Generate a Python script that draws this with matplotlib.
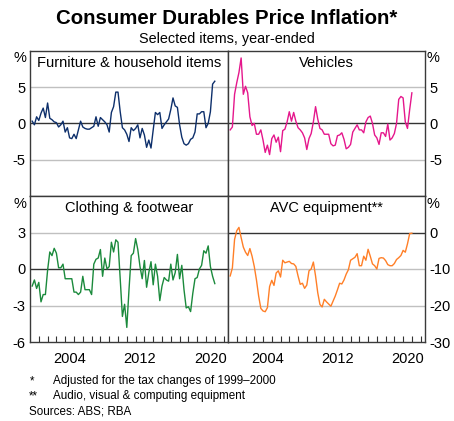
import numpy as np
import matplotlib
matplotlib.use("Agg")
import matplotlib.pyplot as plt

plt.rcParams['font.family'] = ['Liberation Sans', 'DejaVu Sans']

start_year = 2000.25  # first quarterly observation

furniture = [0.3, -0.2, 0.9, 0.4, 1.4, 2.1, 0.8, 2.8, 0.7, 0.5, 0.2, 0.1, -0.5, -0.2, 0.3, -1.2,
             -0.6, -2.0, -2.1, -1.5, -2.1, -0.9, 0.3, -0.5, -0.7, -0.8, -0.8, -0.6, -0.4, 0.9, -0.4, 0.8,
             0.5, 0.2, -0.2, -1.2, 1.5, 2.3, 4.3, 4.3, 1.6, -0.6, -0.9, -1.5, -2.5, -0.6, -1.0, -0.7,
             -0.2, -2.0, -0.7, -1.6, -3.3, -2.3, -3.4, -0.9, 1.5, 1.2, 1.5, -0.7, -0.2, 0.2, 0.6, 1.9,
             3.5, 2.4, 2.2, -0.2, -1.9, -2.8, -3.0, -2.8, -2.2, -2.0, -1.2, 1.3, 1.3, 1.6, 1.6, -0.6,
             0.0, 1.6, 5.4, 5.8]

vehicles = [-0.9, -0.5, 4.0, 5.6, 7.0, 9.0, 4.0, 5.1, 4.2, 0.9, -0.3, 0.0, -1.5, -1.5, -0.9, -2.3,
            -4.0, -3.0, -4.3, -2.1, -1.6, -2.6, -1.9, -3.9, -1.0, -0.8, 0.2, 1.6, 0.3, 1.5, 0.3, -0.6,
            -0.9, -1.3, -2.0, -3.6, -2.1, -1.4, 0.2, 2.3, 0.6, -0.7, -0.9, -1.5, -1.5, -1.5, -2.8, -3.1,
            -3.0, -1.7, -1.6, -1.3, -2.2, -3.5, -3.3, -2.9, -1.2, -0.7, -0.2, -0.9, -0.9, -1.3, 0.2, 0.8,
            1.0, 0.0, -1.6, -2.0, -2.9, -1.3, -1.3, -1.8, -0.1, -2.3, -2.0, -1.4, 0.0, 3.3, 3.7, 3.5,
            0.2, -0.7, 1.9, 4.2]

clothing = [-1.4, -0.9, -1.6, -1.1, -2.7, -2.1, -2.1, -0.1, 1.4, 1.1, 1.7, 1.3, 0.1, 0.1, 0.4, -0.8,
            -0.8, -0.8, -0.8, -1.9, -1.9, -2.1, -1.9, -0.6, -1.7, -1.7, -1.7, -2.1, 0.4, 0.8, 0.9, 1.6,
            -0.6, 0.9, 0.0, 0.2, 2.2, 1.4, 2.4, 2.2, -0.8, -3.9, -2.9, -4.8, -1.7, 1.1, 1.3, 2.5,
            1.6, 0.2, -0.8, 0.7, -1.5, -0.3, 0.6, -1.3, 0.4, -0.6, -2.6, -1.4, -0.7, -0.9, -1.0, 0.4,
            -0.9, -0.3, 1.2, -0.8, 0.3, -1.7, -3.2, -3.1, -3.5, -2.0, -0.8, -0.7, 0.0, 0.3, 1.5, 1.3,
            1.9, 0.2, -0.6, -1.2]

avc = [-11.9, -9.7, -1.9, 0.5, 1.4, -1.4, -4.0, -5.4, -6.3, -4.4, -6.5, -9.3, -13.0, -17.4, -20.8, -21.5,
       -21.7, -20.6, -14.8, -13.1, -14.5, -11.1, -10.5, -12.2, -7.6, -8.3, -8.1, -7.9, -8.5, -8.6, -9.3, -11.9,
       -14.2, -13.9, -15.3, -14.4, -10.5, -10.0, -8.1, -11.9, -16.5, -19.7, -20.4, -18.3, -19.0, -19.6, -20.2, -18.8,
       -17.4, -15.7, -13.9, -14.1, -13.0, -11.4, -10.2, -7.6, -7.2, -6.8, -5.8, -9.1, -9.1, -6.5, -7.6, -4.6,
       -6.5, -8.6, -9.1, -10.0, -7.1, -6.9, -7.0, -7.7, -8.8, -9.1, -9.1, -8.5, -7.4, -6.9, -6.3, -4.9,
       -5.4, -3.1, -0.3, -0.2]

titles = ["Furniture & household items", "Vehicles", "Clothing & footwear", "AVC equipment**"]
colors = ["#0d2f6b", "#e5178c", "#1b8a3c", "#ff7f27"]
series = [furniture, vehicles, clothing, avc]
ylims = [(-10, 10), (-10, 10), (-6, 6), (-30, 10)]
yticks = [[-5, 0, 5], [-5, 0, 5], [-6, -3, 0, 3], [-30, -20, -10, 0]]
ylabels = [["-5", "0", "5"], ["-5", "0", "5"], ["-6", "-3", "0", "3"], ["-30", "-20", "-10", "0"]]
year_labels = [2004, 2012, 2020]

W, H = 454, 421
fig = plt.figure(figsize=(W / 100, H / 100), dpi=100)

xl, xm, xr = 30 / W, 228 / W, 425 / W
yt, ym, yb = 1 - 50.7 / H, 1 - 196 / H, 1 - 342 / H
rects = [(xl, ym, xm - xl, yt - ym), (xm, ym, xr - xm, yt - ym),
         (xl, yb, xm - xl, ym - yb), (xm, yb, xr - xm, ym - yb)]

FS = 10.5
spine_col = "#3a3a3a"
for i, (rect, title, col, data, yl, yt_, ylab) in enumerate(
        zip(rects, titles, colors, series, ylims, yticks, ylabels)):
    ax = fig.add_axes(rect)
    x = start_year + 0.25 * np.arange(len(data))
    for v in yt_:
        if v == 0:
            ax.axhline(v, color="#333333", lw=1.0, zorder=1)
        elif v not in yl:
            ax.axhline(v, color="#c0c0c0", lw=1.0, zorder=1)
    ax.plot(x, data, color=col, lw=1.0, zorder=3)
    ax.set_xlim(2000.0, 2022.5)
    ax.set_ylim(*yl)
    ax.set_yticks(yt_)
    ax.set_yticklabels(ylab)
    right = (i % 2 == 1)
    bottom = (i >= 2)
    ax.tick_params(axis='y', length=0, labelsize=FS, pad=3,
                   left=not right, labelleft=not right, right=right, labelright=right)
    for s in ax.spines.values():
        s.set_color(spine_col)
        s.set_linewidth(1.0)
    if bottom:
        ax.set_xticks([y + 0.5 for y in year_labels])
        ax.set_xticklabels([str(y) for y in year_labels])
        ax.set_xticks(np.arange(2001, 2023), minor=True)
        ax.tick_params(axis='x', which='major', length=0, labelsize=FS, pad=7)
        ax.tick_params(axis='x', which='minor', direction='in', length=4, width=0.8, color="#333333")
    else:
        ax.set_xticks([])
    ax.text(0.5, 1 - 12.3 / 145.3, title, transform=ax.transAxes, ha='center', va='center',
            fontsize=FS)
    if right:
        ax.text(1.0 + 8 / 197, 1 - 7.5 / 145.3, "%", transform=ax.transAxes, ha='center',
                va='center', fontsize=FS)
    else:
        ax.text(-10.5 / 198, 1 - 7.5 / 145.3, "%", transform=ax.transAxes, ha='center',
                va='center', fontsize=FS)

fig.text(0.5, 1 - 18 / H, "Consumer Durables Price Inflation*", ha='center', va='center',
         fontsize=14.7, fontweight='bold')
fig.text(0.5, 1 - 38.5 / H, "Selected items, year-ended", ha='center', va='center', fontsize=10.4)

fig.text(30 / W, 1 - 381 / H, "*", ha='left', va='center', fontsize=8.4)
fig.text(53 / W, 1 - 381 / H, "Adjusted for the tax changes of 1999\u20132000", ha='left', va='center', fontsize=8.4)
fig.text(29 / W, 1 - 396 / H, "**", ha='left', va='center', fontsize=8.4)
fig.text(53 / W, 1 - 396 / H, "Audio, visual & computing equipment", ha='left', va='center', fontsize=8.4)
fig.text(29 / W, 1 - 411 / H, "Sources: ABS; RBA", ha='left', va='center', fontsize=8.4)

fig.savefig("out.png", dpi=100)
